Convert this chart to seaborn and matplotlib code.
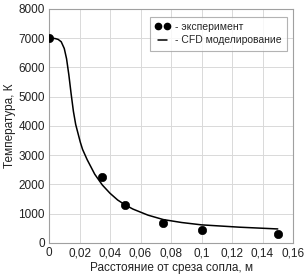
import matplotlib
matplotlib.use("Agg")
import matplotlib.pyplot as plt
import seaborn as sns
import numpy as np
from matplotlib.lines import Line2D

exp_x = [0.0, 0.035, 0.05, 0.075, 0.1, 0.15]
exp_y = [7000, 2250, 1290, 690, 450, 300]

cfd_x = [0.0, 0.002, 0.004, 0.006, 0.008, 0.010, 0.0115, 0.013, 0.0145, 0.016, 0.0175,
         0.019, 0.0205, 0.022, 0.025, 0.03, 0.035, 0.04, 0.045, 0.05, 0.055, 0.065,
         0.075, 0.087, 0.1, 0.125, 0.15]
cfd_y = [7000, 7000, 6990, 6960, 6880, 6650, 6300, 5750, 5100, 4500, 4050,
         3750, 3450, 3200, 2850, 2350, 1980, 1700, 1470, 1300, 1160, 950,
         800, 700, 620, 540, 480]

x_ticks = [0, 0.02, 0.04, 0.06, 0.08, 0.1, 0.12, 0.14, 0.16]
x_tick_labels = ["0", "0,02", "0,04", "0,06", "0,08", "0,1", "0,12", "0,14", "0,16"]
y_ticks = [0, 1000, 2000, 3000, 4000, 5000, 6000, 7000, 8000]

sns.set_style("white")
plt.rcParams['font.family'] = ['Liberation Sans', 'DejaVu Sans']

fig = plt.figure(figsize=(3.05, 2.76), dpi=100)
ax = fig.add_axes([0.1607, 0.1196, 0.80, 0.8478])

sns.lineplot(x=cfd_x, y=cfd_y, ax=ax, color="black", linewidth=1.1, sort=False)
sns.scatterplot(x=exp_x, y=exp_y, ax=ax, color="black", s=36, edgecolor="black", zorder=5)

ax.set_xlim(0, 0.16)
ax.set_ylim(0, 8000)
ax.set_xticks(x_ticks)
ax.set_xticklabels(x_tick_labels)
ax.set_yticks(y_ticks)
ax.tick_params(axis='both', labelsize=8.5, length=0, pad=3, colors="#222222")
ax.grid(True, color="#d9d9d9", linewidth=0.7)
ax.set_axisbelow(True)
for s in ax.spines.values():
    s.set_color("#a0a0a0")
    s.set_linewidth(0.8)

ax.set_xlabel("Расстояние от среза сопла, м", fontsize=8.5, labelpad=2, color="#222222")
ax.set_ylabel("Температура, К", fontsize=8.5, labelpad=1.5, color="#222222")

handles = [Line2D([0], [0], marker='o', color='black', linestyle='None', markersize=4.5),
           Line2D([0], [0], color='black', linewidth=1.1)]
leg = ax.legend(handles, ["- эксперимент", "- CFD моделирование"], loc="upper right",
                fontsize=7.5, numpoints=2, frameon=True, fancybox=False,
                edgecolor="#a0a0a0", handlelength=1.5, handletextpad=0.4,
                borderpad=0.5, labelspacing=0.35, bbox_to_anchor=(0.995, 0.99))
leg.get_frame().set_linewidth(0.8)

fig.savefig("out.png", dpi=100)
